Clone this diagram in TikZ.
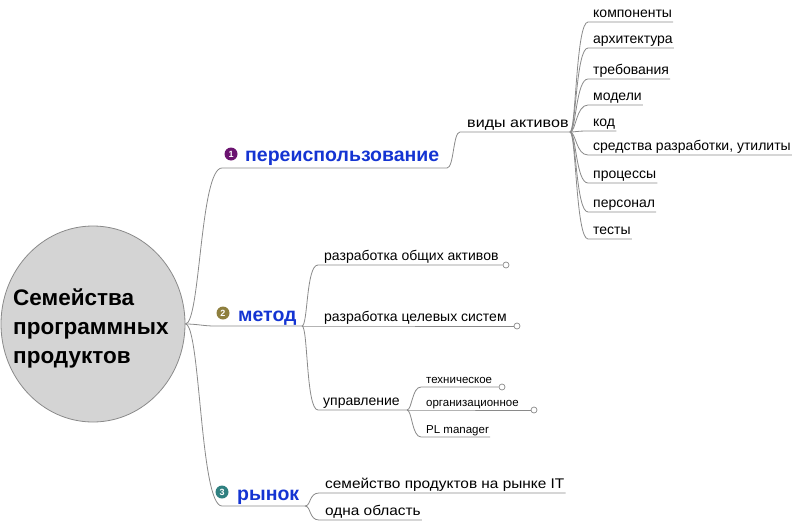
\documentclass[tikz,border=0pt]{standalone}
\usepackage{fontspec}
\setmainfont{Liberation Sans}
\newfontfamily\wideA[FakeStretch=1.15]{Liberation Sans}
\newfontfamily\wideB[FakeStretch=1.10]{Liberation Sans}
\usetikzlibrary{shapes.geometric}
\definecolor{linegray}{HTML}{8A8A8A}
\definecolor{topicblue}{HTML}{1434D2}
\definecolor{bone}{HTML}{6B1470}
\definecolor{btwo}{HTML}{8E7F3E}
\definecolor{bthree}{HTML}{2F8080}
\definecolor{rootfill}{HTML}{D4D4D4}
\tikzset{
  conn/.style={draw=linegray, line width=0.8pt},
  lvltwo/.style={anchor=base west, inner xsep=1pt, inner ysep=0pt, font=\fontsize{14}{16}\selectfont},
  lvlthree/.style={anchor=base west, inner xsep=1pt, inner ysep=0pt, font=\fontsize{11.5}{13}\selectfont},
  maintopic/.style={anchor=base west, inner sep=0pt, text=topicblue, font=\bfseries\fontsize{19.5}{22}\selectfont},
  roottext/.style={anchor=base west, inner sep=0pt, font=\bfseries\fontsize{22.5}{27}\selectfont},
  bullet/.style={circle, inner sep=0pt, minimum size=13pt, text=white, font=\bfseries\fontsize{9}{9}\selectfont},
  endcirc/.style={circle, draw=linegray, fill=white, inner sep=0pt, minimum size=6pt, line width=0.7pt},
  fan/.style={conn},
}
\begin{document}
\begin{tikzpicture}[x=1pt,y=-1pt]
\useasboundingbox (0,0) rectangle (795,522);
% root
\node[ellipse, draw=linegray, fill=rootfill, line width=0.8pt, minimum width=184pt, minimum height=196pt, inner sep=0pt] (root) at (93,324) {};
\node[roottext] (rA) at (13,305) {Семейства};
\node[roottext] (rB) at (13,334) {программных};
\node[roottext] (rC) at (13,363) {продуктов};

% main topic 1
\coordinate (t1s) at (222,168);
\coordinate (t1e) at (447,168);
\draw[conn] (root.east) .. controls +(15,0) and +(-22,0) .. (t1s) -- (t1e);
\node[bullet, fill=bone] (b1) at (231,154) {1};
\node[maintopic] (t1) at (245,161) {переиспользование};

% main topic 2
\coordinate (t2s) at (215,326);
\coordinate (t2e) at (302,326);
\draw[conn] (root.east) .. controls +(12,0) and +(-12,0) .. (t2s) -- (t2e);
\node[bullet, fill=btwo] (b2) at (223,313) {2};
\node[maintopic] (t2) at (238,321) {метод};

% main topic 3
\coordinate (t3s) at (222,506);
\coordinate (t3e) at (305,506);
\draw[conn] (root.east) .. controls +(15,0) and +(-22,0) .. (t3s) -- (t3e);
\node[bullet, fill=bthree] (b3) at (222,492) {3};
\node[maintopic] (t3) at (237,500) {рынок};

% виды активов
\coordinate (a0) at (460,132);
\coordinate (a1) at (570,132);
\node[lvltwo, font=\wideA\fontsize{14}{16}\selectfont] (va) at (466,127) {виды активов};
\draw[conn] (t1e) .. controls +(7,0) and +(-7,0) .. (a0) -- (a1);

\foreach \y/\t/\n in {22/компоненты/k1, 48/архитектура/k2, 79/требования/k3, 105/модели/k4, 131/код/k5, 155/{средства разработки, утилиты}/k6, 183/процессы/k7, 212/персонал/k8, 239/тесты/k9}{
  \coordinate (c\n) at (588,\y);
  \node[lvltwo] (\n) at (592,\y-5) {\t};
  \draw[fan] (a1) .. controls +(6,0) and +(-12,0) .. (c\n) -- (c\n -| \n.east);
}

% метод children
\coordinate (m0) at (302,326);
\coordinate (m1) at (318,265);
\coordinate (m2) at (318,326);
\coordinate (m3) at (318,410);
\coordinate (u0) at (407,410);
\node[lvltwo] (ma) at (323,260) {разработка общих активов};
\node[lvltwo] (mb) at (323,321) {разработка целевых систем};
\node[lvltwo] (mc) at (322,405) {управление};
\node[endcirc] (ea) at (506,265) {};
\node[endcirc] (eb) at (517,326) {};
\draw[conn] (m0) .. controls +(6,0) and +(-12,0) .. (m1) -- (ea.west);
\draw[conn] (m0) -- (m2) -- (eb.west);
\draw[conn] (m0) .. controls +(6,0) and +(-12,0) .. (m3) -- (u0);

% управление children
\coordinate (ua) at (421,387);
\coordinate (ub) at (421,410);
\coordinate (uc) at (421,437);
\node[lvlthree] (la) at (425,383) {техническое};
\node[lvlthree] (lb) at (425,406) {организационное};
\node[lvlthree] (lc) at (425,433) {PL manager};
\node[endcirc] (ec) at (502,387) {};
\node[endcirc] (ed) at (534,410) {};
\draw[conn] (u0) .. controls +(5,0) and +(-9,0) .. (ua) -- (ec.west);
\draw[conn] (u0) -- (ub) -- (ed.west);
\draw[conn] (u0) .. controls +(5,0) and +(-9,0) .. (uc) -- (uc -| lc.east);

% рынок children
\coordinate (r1) at (319,493);
\coordinate (r2) at (319,520);
\node[lvltwo, font=\wideB\fontsize{14}{16}\selectfont] (ra) at (324,488) {семейство продуктов на рынке IT};
\node[lvltwo, font=\wideB\fontsize{14}{16}\selectfont] (rb) at (324,515) {одна область};
\draw[conn] (t3e) .. controls +(6,0) and +(-10,0) .. (r1) -- (r1 -| ra.east);
\draw[conn] (t3e) .. controls +(6,0) and +(-10,0) .. (r2) -- (r2 -| rb.east);
\end{tikzpicture}
\end{document}
